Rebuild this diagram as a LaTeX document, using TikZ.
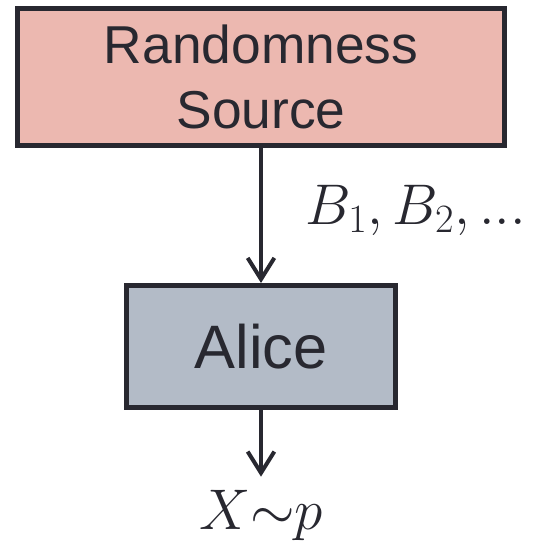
\documentclass[tikz,border=0pt]{standalone}
\usepackage{fix-cm}
\usepackage{fontspec}
\setmainfont{Liberation Sans}
\usetikzlibrary{positioning,arrows.meta}
\definecolor{srccol}{RGB}{236,184,176}
\definecolor{alicecol}{RGB}{179,187,199}
\definecolor{inkcol}{RGB}{40,40,48}

\begin{document}
\begin{tikzpicture}[
  every node/.style={text=inkcol},
  %% framed block, fill colour as argument
  blk/.style={
    draw=inkcol, fill=#1,
    line width=3.75pt,
    align=center, inner sep=0pt
  },
  blk/.default=srccol,
  %% maths labels
  lbl/.style={inner sep=2pt, font=\fontsize{43}{48}\selectfont},
  %% dark arrows
  arr/.style={-{Straight Barb[length=16pt,width=20pt]}, line width=3pt, draw=inkcol},
]
\useasboundingbox (0,0) rectangle (404.25pt,-405.75pt);

%%── Source on top ────────────────────────────────────────────────────────────
\node[blk=srccol,
      minimum width=365.25pt, minimum height=102.75pt,
      font=\fontsize{40}{49}\selectfont] (src)
  at (195.75pt,-57.75pt)
  {Randomness\\Source};

%%── Alice below ──────────────────────────────────────────────────────────────
\node[blk=alicecol, below=101.25pt of src,
      minimum width=201.75pt, minimum height=91.5pt,
      font=\fontsize{46}{50}\selectfont] (alice)
  {Alice};

\node[lbl, below=58pt of alice] (out) {$X{\sim}p$};

%%── Arrows ───────────────────────────────────────────────────────────────────
\draw[arr] (src) -- node[lbl, right=30pt, yshift=4pt] (bits) {$B_1, B_2, ...$} (alice);
\draw[arr, shorten >=8pt] (alice) -- (out);

\end{tikzpicture}
\end{document}
